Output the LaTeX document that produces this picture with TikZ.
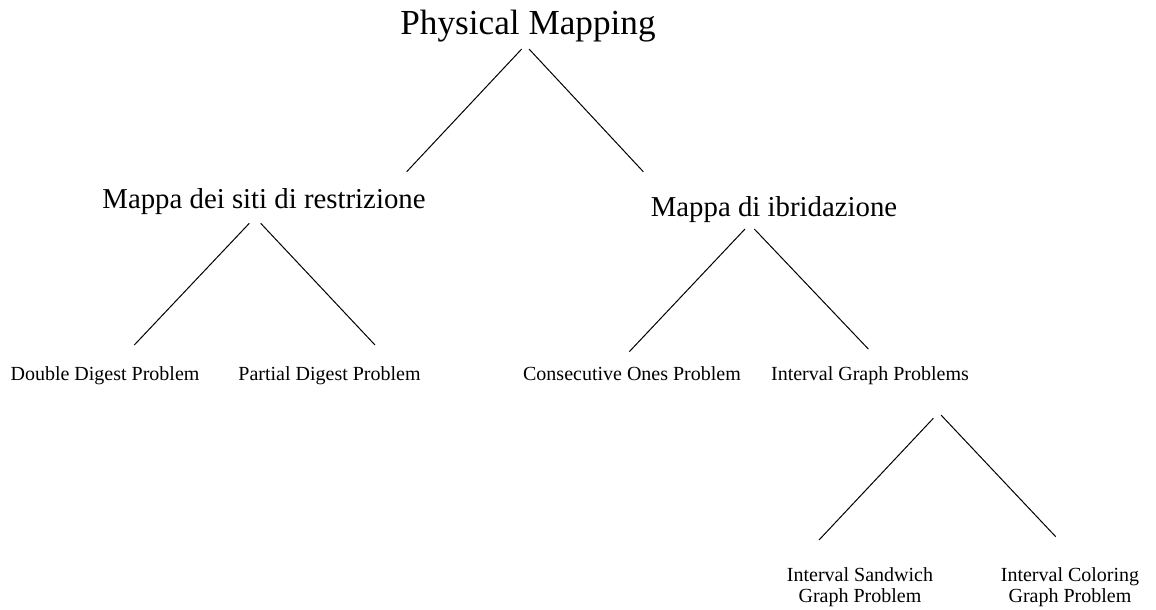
\documentclass[tikz,border=0pt]{standalone}
\usepackage{fontspec}
\setmainfont{Liberation Serif}
\usetikzlibrary{positioning}
\tikzset{top node/.style={anchor=base,inner sep=0pt,font=\fontsize{17.6}{21}\selectfont},
         mid node/.style={anchor=base,inner sep=0pt,font=\fontsize{14.4}{17}\selectfont},
         leaf node/.style={anchor=base,inner sep=0pt,font=\fontsize{10}{10.4}\selectfont,align=center},
         branch/.style={line width=0.5pt},
}

\begin{document}
\begin{tikzpicture}[x=0.5pt,y=-0.5pt]

\useasboundingbox (0,0) rectangle (1156,610);

\node[top node] (pm) at (528,35) {Physical Mapping};

\node[mid node] (sr_0) at (264,208) {Mappa dei siti di restrizione};
\node[mid node] (ib_0) at (774,216) {Mappa di ibridazione};

\node[leaf node] (sr_1) at (105,380) {Double Digest Problem};
\node[leaf node] (sr_2) at (329.5,380) {Partial Digest Problem};
\node[leaf node] (ib_1) at (632,380) {Consecutive Ones Problem};
\node[leaf node] (ib_2) at (870,380) {Interval Graph Problems};

% two-line leaves: base is the last line
\node[leaf node] (ig_1) at (860,602.5) {Interval Sandwich\\Graph Problem};
\node[leaf node] (ig_2) at (1070,602.5) {Interval Coloring\\Graph Problem};

% branch ends
\coordinate (pm_l) at (521.7,49);
\coordinate (pm_r) at (529,49);
\coordinate (sr_0t) at (406.7,171.7);
\coordinate (ib_0t) at (643.3,171.7);

\coordinate (sr_l) at (249.3,223.3);
\coordinate (sr_r) at (260.7,223.3);
\coordinate (sr_1t) at (134.3,345);
\coordinate (sr_2t) at (375,345);

\coordinate (ib_l) at (745,229);
\coordinate (ib_r) at (754.3,229);
\coordinate (ib_1t) at (629.3,351.7);
\coordinate (ib_2t) at (868.3,349);

\coordinate (ig_l) at (933.3,418.3);
\coordinate (ig_r) at (941,415);
\coordinate (ig_1t) at (819,540);
\coordinate (ig_2t) at (1055.7,536.7);

\draw[branch] (pm_l) -- (sr_0t);
\draw[branch] (pm_r) -- (ib_0t);
\draw[branch] (sr_l) -- (sr_1t);
\draw[branch] (sr_r) -- (sr_2t);
\draw[branch] (ib_l) -- (ib_1t);
\draw[branch] (ib_r) -- (ib_2t);
\draw[branch] (ig_l) -- (ig_1t);
\draw[branch] (ig_r) -- (ig_2t);

\end{tikzpicture}
\end{document}
